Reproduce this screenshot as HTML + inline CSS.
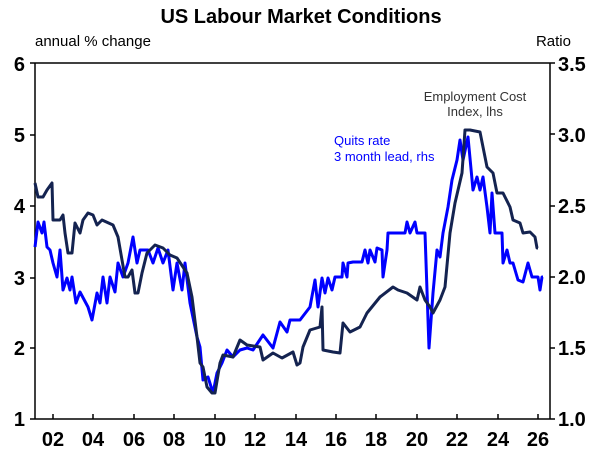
<!DOCTYPE html>
<html><head><meta charset="utf-8"><style>
body{margin:0;background:#fff;}
svg text{font-family:"Liberation Sans",Arial,sans-serif;}
</style></head><body>
<svg width="602" height="457" viewBox="0 0 602 457" xmlns="http://www.w3.org/2000/svg">
<text x="301" y="23" text-anchor="middle" font-size="20" font-weight="bold">US Labour Market Conditions</text>
<text x="35" y="46" font-size="15">annual % change</text>
<text x="571" y="46" font-size="15" text-anchor="end">Ratio</text>
<g stroke="#000" stroke-width="1.5" fill="none">
<line x1="35" y1="63" x2="35" y2="419"/>
<line x1="35" y1="419" x2="550" y2="419"/>
<line x1="550" y1="63" x2="550" y2="419"/>
<line x1="35" y1="63" x2="550" y2="63"/>
<path d="M35 63h-5M35 135h-5M35 206h-5M35 278h-5M35 348h-5M35 419h-5"/>
<path d="M550 63h5M550 134h5M550 206h5M550 277h5M550 348h5M550 419h5"/>
<path d="M53 419v-5M93 419v-5M134 419v-5M174 419v-5M215 419v-5M255 419v-5M296 419v-5M336 419v-5M376 419v-5M417 419v-5M457 419v-5M498 419v-5M538 419v-5"/>
</g>
<g font-size="20" font-weight="bold" text-anchor="end">
<text x="25" y="71">6</text><text x="25" y="142">5</text><text x="25" y="213">4</text><text x="25" y="285">3</text><text x="25" y="355">2</text><text x="25" y="426">1</text>
</g>
<g font-size="20" font-weight="bold">
<text x="558" y="71">3.5</text><text x="558" y="142">3.0</text><text x="558" y="213">2.5</text><text x="558" y="284">2.0</text><text x="558" y="355">1.5</text><text x="558" y="426">1.0</text>
</g>
<g font-size="20" font-weight="bold" text-anchor="middle">
<text x="53" y="446">02</text><text x="93" y="446">04</text><text x="134" y="446">06</text><text x="174" y="446">08</text><text x="215" y="446">10</text><text x="255" y="446">12</text><text x="296" y="446">14</text><text x="336" y="446">16</text><text x="376" y="446">18</text><text x="417" y="446">20</text><text x="457" y="446">22</text><text x="498" y="446">24</text><text x="538" y="446">26</text>
</g>
<polyline fill="none" stroke="#0000ff" stroke-width="3" stroke-linejoin="round" points="35,247 38,222 42,233 44,222 47,247 50,250 53,263 57,277 60,250 63,290 67,278 70,290 72,277 76,303 80,292 88,307 92,320 97,293 100,303 103,277 107,303 110,277 115,292 118,263 123,277 128,263 133,237 137,263 140,250 148,250 153,263 158,248 163,263 168,250 173,290 177,263 182,290 185,263 190,303 197,337 200,347 203,380 208,377 213,393 217,373 222,363 227,350 233,357 240,350 247,348 253,350 263,335 273,348 280,322 287,332 290,320 300,320 310,307 315,280 318,307 322,278 325,293 328,278 332,290 335,277 342,277 343,263 347,277 348,263 353,262 362,262 365,250 368,263 370,250 375,262 377,248 382,250 383,277 387,250 388,233 405,233 407,222 410,233 415,222 417,233 425,233 429,348 433,293 437,250 440,257 443,233 448,207 452,180 457,160 460,140 463,160 468,137 473,190 477,177 480,190 483,177 487,207 490,233 492,193 495,233 502,233 503,263 507,250 510,263 513,263 518,280 523,282 528,263 532,277 538,277 540,290 542,277 543,277"/>
<polyline fill="none" stroke="#142350" stroke-width="3" stroke-linejoin="round" points="35,183 38,197 43,197 47,190 52,183 53,220 60,220 63,215 65,233 68,253 72,253 75,223 80,233 83,220 88,213 93,215 97,225 102,220 113,225 118,237 122,260 125,277 128,277 132,270 135,293 138,293 142,273 147,253 155,245 163,248 170,255 177,258 187,273 192,297 197,337 200,363 203,367 207,387 212,393 215,393 220,363 223,355 233,357 240,340 247,345 260,347 263,360 273,353 282,358 293,352 297,365 300,363 303,347 310,330 320,327 322,307 323,350 333,352 340,353 343,323 350,332 360,327 367,313 380,297 393,287 398,290 407,293 417,300 420,287 425,300 430,307 433,313 440,300 445,287 450,233 455,203 462,173 465,130 470,130 480,132 487,167 493,173 497,193 503,193 510,207 513,220 520,223 523,233 530,232 535,237 537,248 538,248"/>
<text x="475" y="101" font-size="13" fill="#333" text-anchor="middle">Employment Cost</text>
<text x="475" y="116" font-size="13" fill="#333" text-anchor="middle">Index, lhs</text>
<text x="334" y="145" font-size="13" fill="#0000ff">Quits rate</text>
<text x="334" y="161" font-size="13" fill="#0000ff">3 month lead, rhs</text>
</svg>
</body></html>
